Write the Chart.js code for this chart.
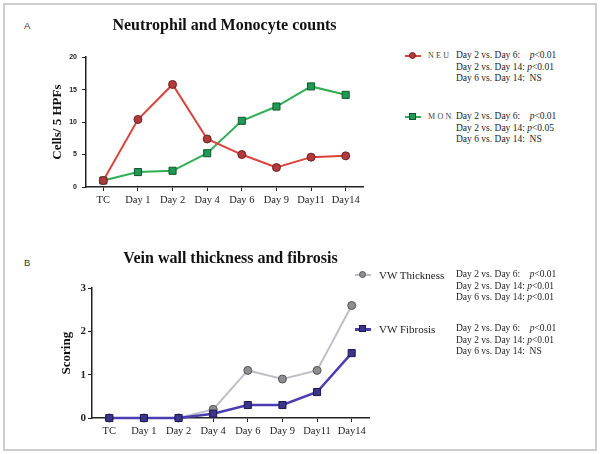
<!DOCTYPE html>
<html>
<head>
<meta charset="utf-8">
<script src="https://cdn.jsdelivr.net/npm/chart.js@4.4.1/dist/chart.umd.min.js"></script>
<style>
  body { margin: 0; width: 600px; height: 454px; background: #fff; position: relative; overflow: hidden; }
  .frame { position: absolute; left: 3px; top: 3px; width: 590px; height: 444px; border: 2px solid #cfcfcf; }
  canvas { position: absolute; left: 0; }
  .panel { position: absolute; left: 24px; font: 9.5px "Liberation Sans", sans-serif; color: #333; }
  .key { position: absolute; height: 10px; width: 16px; }
  .key .ln { position: absolute; left: 0; right: 0; top: 4px; height: 2px; }
  .key .mk { position: absolute; left: 4px; top: 1px; width: 7px; height: 7px; box-sizing: border-box; border: 1px solid; }
  .tag { position: absolute; font: 8px "Liberation Serif", serif; letter-spacing: 2.3px; color: #444; }
  .name { position: absolute; font: 11px "Liberation Serif", serif; color: #222; }
  .stats { position: absolute; left: 456px; font: 9.5px "Liberation Serif", serif; color: #222; line-height: 11.5px; white-space: pre; }
</style>
</head>
<body>
<div class="frame"></div>
<div class="panel" style="top:20px">A</div>
<div class="panel" style="top:257px">B</div>
<canvas id="chartA" width="380" height="215" style="top:0"></canvas>
<canvas id="chartB" width="380" height="225" style="top:220px"></canvas>
<div id="keys"></div>
<script>
const days = ['TC', 'Day 1', 'Day 2', 'Day 4', 'Day 6', 'Day 9', 'Day11', 'Day14'];

const neu = [1, 10.4, 15.8, 7.4, 5.0, 3.0, 4.6, 4.8];
const mon = [1, 2.3, 2.5, 5.2, 10.2, 12.4, 15.5, 14.2];
const ticksA = [0, 5, 10, 15, 20];

const vwThickness = [0, 0, 0, 0.2, 1.1, 0.9, 1.1, 2.6];
const vwFibrosis = [0, 0, 0, 0.1, 0.3, 0.3, 0.6, 1.5];
const ticksB = [0, 1, 2, 3];

const statsNeu = [['Day 2 vs. Day 6:', 'p<0.01'], ['Day 2 vs. Day 14:', 'p<0.01'], ['Day 6 vs. Day 14:', 'NS']];
const statsMon = [['Day 2 vs. Day 6:', 'p<0.01'], ['Day 2 vs. Day 14:', 'p<0.05'], ['Day 6 vs. Day 14:', 'NS']];
const statsThick = [['Day 2 vs. Day 6:', 'p<0.01'], ['Day 2 vs. Day 14:', 'p<0.01'], ['Day 6 vs. Day 14:', 'p<0.01']];
const statsFib = [['Day 2 vs. Day 6:', 'p<0.01'], ['Day 2 vs. Day 14:', 'p<0.01'], ['Day 6 vs. Day 14:', 'NS']];

const serif = 'Liberation Serif';

function lineSet(data, line, fill, edge, style, r, width) {
    return {
        data: data,
        borderColor: line,
        borderWidth: width,
        backgroundColor: fill,
        pointBackgroundColor: fill,
        pointBorderColor: edge,
        pointBorderWidth: 1,
        pointStyle: style,
        pointRadius: r,
        tension: 0,
        clip: false
    };
}

function makeChart(id, sets, tickValues, opts) {
    const ctx = document.getElementById(id).getContext('2d');
    return new Chart(ctx, {
        type: 'line',
        data: { labels: days, datasets: sets },
        options: {
            responsive: false,
            animation: false,
            devicePixelRatio: 1,
            layout: { padding: { left: 0, right: opts.padRight, top: 0, bottom: 0 } },
            plugins: {
                legend: { display: false },
                tooltip: { enabled: false },
                title: {
                    display: true,
                    fullSize: false,
                    text: opts.title,
                    color: '#111',
                    font: { family: serif, size: 16, weight: 'bold' },
                    padding: { top: opts.titleTop, bottom: opts.titleBottom }
                }
            },
            scales: {
                x: {
                    offset: true,
                    grid: { drawOnChartArea: false, drawTicks: true, tickLength: 4, color: '#222' },
                    border: { display: true, color: '#222', width: 1.5 },
                    ticks: { color: '#222', padding: 3, font: { family: serif, size: 10.5 }, maxRotation: 0, autoSkip: false },
                    afterFit: function(scale) { scale.height = opts.xHeight; }
                },
                y: {
                    min: 0,
                    max: tickValues[tickValues.length - 1],
                    afterBuildTicks: function(scale) { scale.ticks = tickValues.map(v => ({ value: v })); },
                    grid: { drawOnChartArea: false, drawTicks: true, tickLength: 4, color: '#222' },
                    border: { display: true, color: '#222', width: 1.5 },
                    ticks: { color: '#222', padding: opts.tickPad, font: opts.tickFont },
                    title: {
                        display: true,
                        text: opts.yTitle,
                        color: '#111',
                        font: { family: serif, size: 13, weight: 'bold' },
                        padding: { top: opts.yTitleTop, bottom: 0 }
                    },
                    afterFit: function(scale) { scale.width = opts.yWidth; }
                }
            }
        }
    });
}

makeChart('chartA', [
    Object.assign(lineSet(neu, '#d9443c', '#b33a3c', '#6e1f22', 'circle', 4, 2), { order: 1 }),
    Object.assign(lineSet(mon, '#2fae52', '#1f9a55', '#12552e', 'rect', 5, 2), { order: 2 })
], ticksA, {
    title: 'Neutrophil and Monocyte counts',
    padRight: 17, titleTop: 16, titleBottom: 22, xHeight: 28, yWidth: 86, yTitleTop: 50,
    yTitle: 'Cells/ 5 HPFs', tickPad: 5,
    tickFont: { family: 'Liberation Sans', size: 7, weight: 'bold' }
});

makeChart('chartB', [
    Object.assign(lineSet(vwFibrosis, '#4a3db2', '#3b3488', '#1c1850', 'rect', 5, 2.5), { order: 1 }),
    Object.assign(lineSet(vwThickness, '#bfbfc8', '#8e8e90', '#555', 'circle', 4, 2), { order: 2 })
], ticksB, {
    title: 'Vein wall thickness and fibrosis',
    padRight: 11, titleTop: 29, titleBottom: 20, xHeight: 27, yWidth: 92, yTitleTop: 59,
    yTitle: 'Scoring', tickPad: 2,
    tickFont: { family: serif, size: 11, weight: 'bold' }
});

// legends and statistics, as plain html text
const keys = document.getElementById('keys');

function addKey(x, y, line, fill, edge, round, lineW) {
    const k = document.createElement('div');
    k.className = 'key';
    k.style.left = x + 'px';
    k.style.top = (y - 5) + 'px';
    k.innerHTML = '<div class="ln" style="background:' + line + ';height:' + lineW + 'px"></div>' +
        '<div class="mk" style="background:' + fill + ';border-color:' + edge + ';border-radius:' + (round ? '50%' : '0') + '"></div>';
    keys.appendChild(k);
}

function addText(cls, x, y, text, h) {
    const d = document.createElement('div');
    d.className = cls;
    d.style.left = x + 'px';
    d.style.top = (y - h / 2) + 'px';
    d.textContent = text;
    keys.appendChild(d);
}

function addStats(y, rows) {
    const d = document.createElement('div');
    d.className = 'stats';
    d.style.top = (y - 5.75) + 'px';
    d.innerHTML = rows.map(function(r) {
        const gap = r[0].endsWith('Day 6:') ? '    ' : (r[1] === 'NS' ? '  ' : ' ');
        const val = r[1] === 'NS' ? 'NS' : '<i>p</i>' + r[1].slice(1).replace('<', '&lt;');
        return r[0] + gap + val;
    }).join('\n');
    keys.appendChild(d);
}

addKey(405, 56, '#d9443c', '#b33a3c', '#6e1f22', true, 2);
addText('tag', 428, 56, 'NEU', 10);
addStats(56, statsNeu);

addKey(405, 117, '#2fae52', '#1f9a55', '#12552e', false, 2);
addText('tag', 428, 117, 'MON', 10);
addStats(117, statsMon);

addKey(355, 275, '#bfbfc8', '#8e8e90', '#555', true, 2);
addText('name', 379, 275, 'VW Thickness', 13);
addStats(275, statsThick);

addKey(355, 329, '#4a3db2', '#3b3488', '#1c1850', false, 2.5);
addText('name', 379, 329, 'VW Fibrosis', 13);
addStats(329, statsFib);
</script>
</body>
</html>
